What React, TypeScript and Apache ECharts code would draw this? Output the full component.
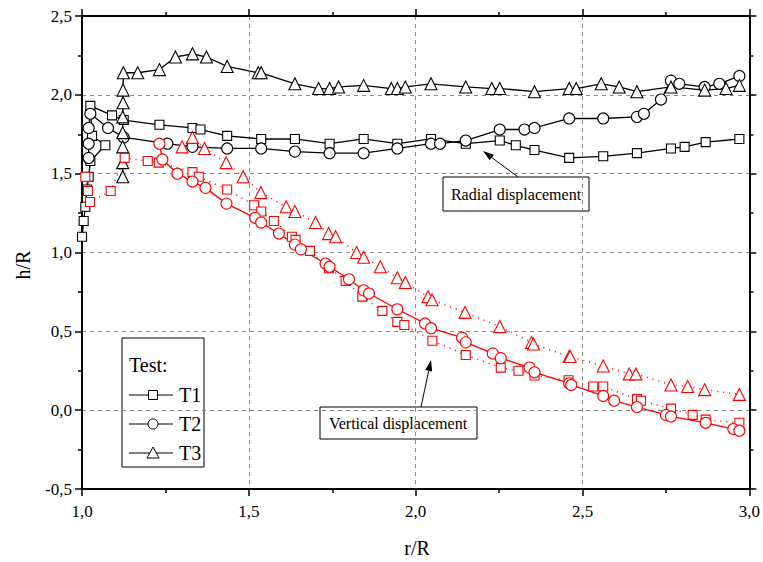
import React, { useEffect, useRef } from "react";
import * as echarts from "echarts";

const xTicks = [1.0, 1.5, 2.0, 2.5, 3.0];
const yTicks = [-0.5, 0.0, 0.5, 1.0, 1.5, 2.0, 2.5];

// Radial displacement (black)
const radialT1: [number, number][] = [
  [1.0, 1.1], [1.005, 1.2], [1.01, 1.29], [1.015, 1.4], [1.02, 1.48], [1.025, 1.58],
  [1.07, 1.68], [1.03, 1.74], [1.025, 1.93], [1.09, 1.87], [1.125, 1.84],
  [1.232, 1.81], [1.331, 1.79], [1.355, 1.78], [1.435, 1.74], [1.537, 1.72], [1.638, 1.72],
  [1.742, 1.69], [1.844, 1.72], [1.945, 1.69], [2.046, 1.72], [2.15, 1.69], [2.252, 1.71],
  [2.3, 1.68], [2.356, 1.65], [2.46, 1.6], [2.562, 1.61], [2.663, 1.63], [2.765, 1.66],
  [2.806, 1.67], [2.869, 1.7], [2.97, 1.72],
];
const radialT2: [number, number][] = [
  [1.02, 1.6], [1.02, 1.69], [1.02, 1.79], [1.025, 1.88], [1.078, 1.79], [1.125, 1.73],
  [1.256, 1.69], [1.331, 1.67], [1.435, 1.66], [1.537, 1.66], [1.638, 1.64], [1.742, 1.63],
  [1.844, 1.63], [1.945, 1.66], [2.046, 1.69], [2.073, 1.69], [2.15, 1.71], [2.252, 1.78],
  [2.326, 1.78], [2.356, 1.79], [2.46, 1.85], [2.562, 1.85], [2.663, 1.86], [2.684, 1.88],
  [2.735, 1.97], [2.765, 2.09], [2.79, 2.07], [2.866, 2.05], [2.91, 2.07], [2.97, 2.12],
];
const radialT3: [number, number][] = [
  [1.122, 1.48], [1.122, 1.57], [1.122, 1.67], [1.122, 1.76], [1.122, 1.86], [1.123, 1.95],
  [1.123, 2.03], [1.124, 2.14], [1.167, 2.14], [1.232, 2.16], [1.28, 2.24], [1.331, 2.26],
  [1.373, 2.24], [1.435, 2.18], [1.528, 2.14], [1.537, 2.14], [1.638, 2.07], [1.709, 2.04],
  [1.742, 2.04], [1.769, 2.05], [1.844, 2.06], [1.927, 2.04], [1.945, 2.04], [1.969, 2.05],
  [2.046, 2.07], [2.15, 2.05], [2.228, 2.04], [2.252, 2.04], [2.356, 2.02], [2.46, 2.04],
  [2.481, 2.04], [2.556, 2.07], [2.61, 2.05], [2.663, 2.02], [2.765, 2.05], [2.866, 2.03],
  [2.93, 2.04], [2.97, 2.06],
];

// Vertical displacement (red)
const verticalT1: [number, number][] = [
  [1.01, 1.48], [1.018, 1.39], [1.024, 1.32], [1.086, 1.39], [1.128, 1.6], [1.197, 1.58],
  [1.23, 1.57], [1.331, 1.51], [1.35, 1.48], [1.435, 1.4], [1.516, 1.3], [1.537, 1.26],
  [1.575, 1.2], [1.629, 1.1], [1.64, 1.08], [1.683, 1.01], [1.74, 0.9], [1.79, 0.82],
  [1.84, 0.72], [1.9, 0.63], [1.945, 0.56], [1.966, 0.54], [2.05, 0.44], [2.15, 0.35],
  [2.255, 0.27], [2.308, 0.25], [2.356, 0.22], [2.458, 0.19], [2.532, 0.15], [2.562, 0.15],
  [2.663, 0.07], [2.675, 0.06], [2.765, 0.01], [2.83, -0.03], [2.869, -0.06], [2.97, -0.08],
];
const verticalT2: [number, number][] = [
  [1.232, 1.69], [1.241, 1.59], [1.286, 1.5], [1.331, 1.45], [1.37, 1.41], [1.433, 1.31],
  [1.519, 1.22], [1.537, 1.19], [1.59, 1.12], [1.638, 1.05], [1.656, 1.02], [1.73, 0.93],
  [1.742, 0.91], [1.8, 0.83], [1.844, 0.76], [1.86, 0.74], [1.945, 0.64], [2.028, 0.55],
  [2.046, 0.52], [2.139, 0.46], [2.15, 0.43], [2.231, 0.36], [2.255, 0.33], [2.341, 0.27],
  [2.356, 0.24], [2.46, 0.17], [2.466, 0.16], [2.562, 0.09], [2.595, 0.06], [2.663, 0.02],
  [2.75, -0.03], [2.765, -0.04], [2.869, -0.08], [2.952, -0.12], [2.97, -0.13],
];
const verticalT3: [number, number][] = [
  [1.3, 1.67], [1.331, 1.73], [1.367, 1.66], [1.432, 1.57], [1.483, 1.48], [1.536, 1.38],
  [1.612, 1.29], [1.638, 1.26], [1.7, 1.19], [1.739, 1.12], [1.76, 1.1], [1.823, 1.0],
  [1.844, 0.97], [1.894, 0.91], [1.945, 0.84], [1.969, 0.81], [2.037, 0.72], [2.049, 0.7],
  [2.148, 0.62], [2.252, 0.53], [2.347, 0.43], [2.353, 0.42], [2.46, 0.34], [2.463, 0.34],
  [2.562, 0.28], [2.64, 0.23], [2.66, 0.23], [2.765, 0.16], [2.815, 0.15], [2.866, 0.13],
  [2.97, 0.1],
];

const legendItems = ["T1", "T2", "T3"];

const FONT = "'Liberation Serif', 'Times New Roman', 'DejaVu Serif', serif";
const fmt = (v: number) => v.toFixed(1).replace(".", ",");

function arrow(x1: number, y1: number, x2: number, y2: number) {
  const dx = x2 - x1, dy = y2 - y1;
  const L = Math.sqrt(dx * dx + dy * dy);
  const ux = dx / L, uy = dy / L;
  const bx = x2 - ux * 11, by = y2 - uy * 11;
  const px = -uy * 3.5, py = ux * 3.5;
  return [
    { type: "line", shape: { x1, y1, x2: bx, y2: by }, style: { stroke: "#000", lineWidth: 1 } },
    {
      type: "polygon",
      shape: { points: [[x2, y2], [bx + px, by + py], [bx - px, by - py]] },
      style: { fill: "#000" },
    },
  ];
}

function txt(x: number, y: number, text: string, size: number, align: string, extra: any = {}) {
  return {
    type: "text", x, y, ...extra,
    style: { text, fontFamily: FONT, fontSize: size, fill: "#000", align, verticalAlign: "middle" },
  };
}

export default function App() {
  const ref = useRef<HTMLDivElement>(null);
  useEffect(() => {
    const chart = echarts.init(ref.current!, null, { renderer: "svg" });
    const black = "#000";
    const red = "#ff0000";
    const mk = (
      name: string,
      data: [number, number][],
      color: string,
      symbol: string,
      size: number,
      lineType: any
    ) => ({
      name,
      type: "line",
      data,
      symbol,
      symbolSize: size,
      showSymbol: true,
      lineStyle: { color, width: lineType === "solid" ? 1.3 : 1.5, type: lineType, cap: "butt" },
      itemStyle: { color: "#fff", borderColor: color, borderWidth: 1.1 },
      emphasis: { disabled: true },
    });
    const axisCommon = {
      axisLine: { show: true, onZero: false, lineStyle: { color: "#000", width: 2 } },
      axisTick: { show: true, inside: false, length: 7, lineStyle: { color: "#000", width: 1.5 } },
      minorTick: { show: true, splitNumber: 2, length: 4, lineStyle: { color: "#000", width: 1.5 } },
    };
    const legendGraphics: any[] = [
      { type: "rect", shape: { x: 122, y: 338, width: 82, height: 129 }, style: { fill: "#fff", stroke: "#000", lineWidth: 1 } },
      txt(129, 365, "Test:", 20, "left"),
    ];
    const rowsY = [395, 424, 453];
    legendItems.forEach((t, i) => {
      const y = rowsY[i];
      legendGraphics.push({ type: "line", shape: { x1: 129, y1: y, x2: 173, y2: y }, style: { stroke: "#000", lineWidth: 1.2 } });
      if (i === 0) legendGraphics.push({ type: "rect", shape: { x: 148.5, y: y - 4.5, width: 9, height: 9 }, style: { fill: "#fff", stroke: "#000", lineWidth: 1 } });
      if (i === 1) legendGraphics.push({ type: "circle", shape: { cx: 153, cy: y, r: 5 }, style: { fill: "#fff", stroke: "#000", lineWidth: 1 } });
      if (i === 2) legendGraphics.push({ type: "polygon", shape: { points: [[153, y - 6], [147, y + 5], [159, y + 5]] }, style: { fill: "#fff", stroke: "#000", lineWidth: 1 } });
      legendGraphics.push(txt(179, y, t, 20, "left"));
    });
    const annot: any[] = [
      ...arrow(518, 177, 483, 151),
      { type: "rect", shape: { x: 443, y: 177, width: 146, height: 34 }, style: { fill: "#fff", stroke: "#000", lineWidth: 1 } },
      txt(516, 194, "Radial displacement", 16, "center"),
      ...arrow(421, 407, 431, 360),
      { type: "rect", shape: { x: 320, y: 407, width: 157, height: 32 }, style: { fill: "#fff", stroke: "#000", lineWidth: 1 } },
      txt(398, 423, "Vertical displacement", 16, "center"),
      txt(23, 265, "h/R", 20, "center", { rotation: Math.PI / 2 }),
      txt(417, 548, "r/R", 20, "center"),
    ];
    chart.setOption({
      animation: false,
      backgroundColor: "#fff",
      textStyle: { fontFamily: FONT },
      grid: { left: 82, right: 10, top: 16, bottom: 73 },
      xAxis: [
        {
          type: "value", min: xTicks[0], max: xTicks[xTicks.length - 1], interval: 0.5, position: "bottom",
          ...axisCommon,
          axisLabel: { formatter: fmt, fontFamily: FONT, fontSize: 17, color: "#000", margin: 14 },
          splitLine: { show: true, lineStyle: { color: "#8a8a8a", type: [4, 4], width: 1 } },
        },
        {
          type: "value", min: xTicks[0], max: xTicks[xTicks.length - 1], interval: 0.5, position: "top",
          ...axisCommon, axisLabel: { show: false }, splitLine: { show: false },
        },
      ],
      yAxis: [
        {
          type: "value", min: yTicks[0], max: yTicks[yTicks.length - 1], interval: 0.5, position: "left",
          ...axisCommon,
          axisLabel: { formatter: fmt, fontFamily: FONT, fontSize: 17, color: "#000", margin: 10 },
          splitLine: { show: true, lineStyle: { color: "#8a8a8a", type: [4, 4], width: 1 } },
        },
        {
          type: "value", min: yTicks[0], max: yTicks[yTicks.length - 1], interval: 0.5, position: "right",
          ...axisCommon, axisLabel: { show: false }, splitLine: { show: false },
        },
      ],
      series: [
        mk("Radial T1", radialT1, black, "rect", 9, "solid"),
        mk("Radial T2", radialT2, black, "circle", 11, "solid"),
        mk("Radial T3", radialT3, black, "triangle", 12, "solid"),
        mk("Vertical T1", verticalT1, red, "rect", 9, [1, 5]),
        mk("Vertical T2", verticalT2, red, "circle", 11, "solid"),
        mk("Vertical T3", verticalT3, red, "triangle", 12, [1, 5]),
      ],
      graphic: [...legendGraphics, ...annot],
    });
    return () => chart.dispose();
  }, []);
  return <div ref={ref} style={{ position: "fixed", left: 0, top: 0, width: 763, height: 562, background: "#fff" }} />;
}
